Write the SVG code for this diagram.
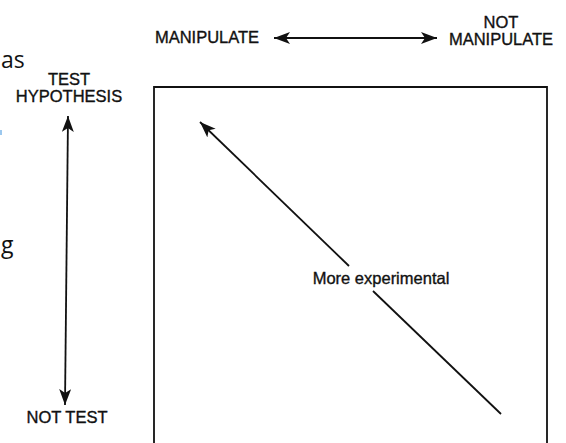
<svg xmlns="http://www.w3.org/2000/svg" width="566" height="443" viewBox="0 0 566 443">
<defs>
<style>
.lbl{font-family:"Liberation Sans",Arial,sans-serif;font-size:16.5px;fill:#111;stroke:#111;stroke-width:0.35;text-anchor:middle}
.frag{font-family:"Open Sans","Liberation Sans",sans-serif;font-size:23px;fill:#111;text-anchor:start}
.ln{stroke:#111;stroke-width:1.8;fill:none}
</style>
<marker id="ah" markerUnits="userSpaceOnUse" markerWidth="18" markerHeight="14" refX="16" refY="6" orient="auto-start-reverse">
<path d="M0,0 L16,6 L0,12 L4,6 z" fill="#111"/>
</marker>
</defs>
<rect width="566" height="443" fill="#fff"/>
<text class="frag" x="1" y="68">as</text>
<text class="frag" x="1" y="253">g</text>
<rect x="0" y="130" width="2" height="5" fill="#9cc8ee"/>
<g id="frame">
<path class="ln" d="M154,443 V87 H547 V443" stroke-width="2"/>
</g>
<g id="test-hypothesis">
<text class="lbl" x="69" y="85">TEST</text>
<text class="lbl" x="69" y="102">HYPOTHESIS</text>
</g>
<g id="not-test">
<text class="lbl" x="67" y="423">NOT TEST</text>
</g>
<g id="manipulate">
<text class="lbl" x="207" y="43">MANIPULATE</text>
</g>
<g id="not-manipulate">
<text class="lbl" x="501" y="28">NOT</text>
<text class="lbl" x="501" y="45">MANIPULATE</text>
</g>
<g id="more-experimental">
<text class="lbl" x="381" y="284">More experimental</text>
</g>
<g id="connectors">
<line class="ln" x1="274" y1="38" x2="437" y2="38" marker-start="url(#ah)" marker-end="url(#ah)"/>
<line class="ln" x1="68" y1="116" x2="65" y2="405" marker-start="url(#ah)" marker-end="url(#ah)"/>
<line class="ln" x1="349" y1="266" x2="200" y2="122" marker-end="url(#ah)"/>
<line class="ln" x1="373" y1="291" x2="501" y2="414"/>
</g>
</svg>
